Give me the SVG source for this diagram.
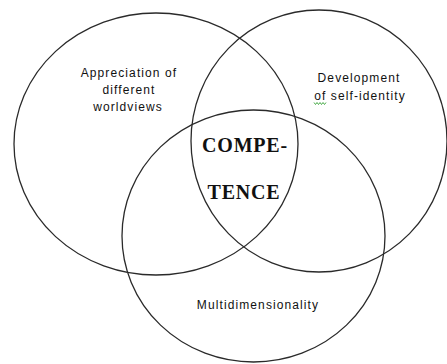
<svg xmlns="http://www.w3.org/2000/svg" width="447" height="364" viewBox="0 0 447 364">
  <style>
    .ring { fill: none; stroke: #2a2a2a; stroke-width: 1.3; }
    .lbl { font-family: "Liberation Sans", Arial, sans-serif; font-size: 12px; letter-spacing: 1.1px; fill: #111; text-anchor: middle; }
    .core { font-family: "Liberation Serif", "Times New Roman", serif; font-size: 20px; font-weight: bold; letter-spacing: 0.8px; fill: #111; text-anchor: middle; }
  </style>
  <rect width="447" height="364" fill="#ffffff"/>
  <g id="worldviews">
    <ellipse class="ring" cx="156" cy="144" rx="142" ry="131"/>
    <text class="lbl" x="129" y="77">Appreciation of</text>
    <text class="lbl" x="129" y="94">different</text>
    <text class="lbl" x="128" y="111">worldviews</text>
  </g>
  <g id="self-identity">
    <ellipse class="ring" cx="319" cy="141" rx="128" ry="131"/>
    <text class="lbl" x="359" y="82">Development</text>
    <text class="lbl" x="360" y="100">of self-identity</text>
    <path d="M314,102.5 l1.5,2 l1.5,-2 l1.5,2 l1.5,-2 l1.5,2 l1.5,-2 l1.5,2 l1.5,-2" fill="none" stroke="#3aa53a" stroke-width="0.9"/>
  </g>
  <g id="multidimensionality">
    <ellipse class="ring" cx="253.5" cy="236" rx="131.5" ry="126"/>
    <text class="lbl" x="258" y="309">Multidimensionality</text>
  </g>
  <g id="competence">
    <text class="core" x="245" y="152">COMPE-</text>
    <text class="core" x="244" y="199">TENCE</text>
  </g>
  <g id="connectors"/>
</svg>
